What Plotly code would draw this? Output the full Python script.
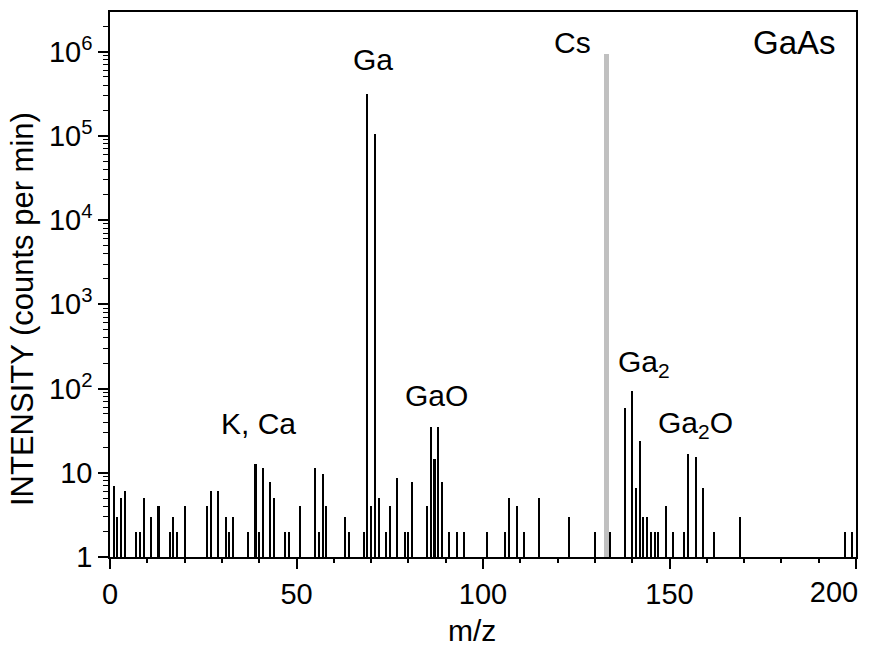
import plotly.graph_objects as go

# peak positions (m/z) and intensities (counts per min)
mz = [1, 2, 3, 4, 7, 8, 9, 11, 13, 16, 17, 18, 20, 26, 27, 29, 31, 32, 33,
      37, 39, 40, 41, 43, 44, 47, 48, 51, 55, 56, 57, 58, 63, 64, 68, 69, 70,
      71, 72, 74, 75, 77, 79, 80, 81, 85, 86, 87, 88, 89, 91, 93, 95, 101,
      106, 107, 109, 111, 115, 123, 130, 134, 138, 140, 141, 142, 143, 144,
      145, 146, 147, 149, 151, 154, 155, 157, 159, 162, 169, 197, 199]
counts = [7, 3, 5, 6, 2, 2, 5, 3, 4, 2, 3, 2, 4, 4, 6, 6, 3, 2, 3,
          2, 12.6, 2, 11.5, 7.7, 5, 2, 2, 4, 11.5, 2, 9.6, 4, 3, 2, 2, 3.1e5, 4,
          1.05e5, 5, 2, 4, 8.6, 2, 2, 7.7, 4, 34.6, 14.5, 34.6, 7.7, 2, 2, 2, 2,
          2, 5, 4, 2, 5, 3, 2, 2, 59, 94, 6.6, 24, 3, 3,
          2, 2, 2, 4, 2, 2, 16.5, 15.5, 6.6, 2, 3, 2, 2]

cs_mz = [133]
cs_counts = [9.3e5]

xtick_vals = [0, 50, 100, 150, 200]
xtick_text = ["0", "50", "100", "150", ""]
last_xtick = 200
ytick_vals = [1, 10, 100, 1e3, 1e4, 1e5, 1e6]
ytick_text = ["1", "10", "10<sup>2</sup>", "10<sup>3</sup>", "10<sup>4</sup>",
              "10<sup>5</sup>", "10<sup>6</sup>"]
yminor_vals = [m * 10 ** d for d in range(7) for m in range(2, 10)]

# (text, x, log10 y, font size)
labels = [
    ("Ga", 70.5, 5.91, 30),
    ("Cs", 124.1, 6.11, 30),
    ("GaAs", 183.6, 6.11, 33),
    ("K, Ca", 39.9, 1.59, 30),
    ("GaO", 87.4, 1.92, 30),
    ("Ga<sub>2</sub>", 143.2, 2.30, 30),
    ("Ga<sub>2</sub>O", 157.1, 1.57, 30),
]

FONT = "Arial, Liberation Sans, sans-serif"

fig = go.Figure()
fig.add_trace(go.Bar(x=mz, y=counts, width=0.55,
                     marker=dict(color="black", line=dict(width=0))))
# Cs peak sits on the overlaid x2 axis (same range) so that axis gets drawn
fig.add_trace(go.Bar(x=cs_mz, y=cs_counts, width=1.35, xaxis="x2",
                     marker=dict(color="#c0c0c0", line=dict(width=0))))

for text, x, y, size in labels:
    fig.add_annotation(x=x, y=y, text=text, showarrow=False,
                       xanchor="center", yanchor="middle",
                       font=dict(size=size, color="black", family=FONT))

fig.add_annotation(xref="paper", yref="paper", x=0, y=0.455, xshift=-88,
                   xanchor="center", yanchor="middle",
                   text="INTENSITY (counts per min)", textangle=-90,
                   showarrow=False, font=dict(size=31, color="black", family=FONT))
fig.add_annotation(xref="paper", yref="paper", x=0.485, y=0, yshift=-73,
                   xanchor="center", yanchor="middle",
                   text="m/z", showarrow=False,
                   font=dict(size=30, color="black", family=FONT))

# the page body adds an 8px offset, so the figure is sized to compensate
fig.update_layout(
    width=875, height=653,
    margin=dict(l=102, r=27, t=4, b=104),
    paper_bgcolor="white", plot_bgcolor="white",
    showlegend=False, barmode="overlay", bargap=0,
    font=dict(family=FONT, size=29, color="black"),
    xaxis=dict(
        range=[0, 200], tickvals=xtick_vals, ticktext=xtick_text,
        automargin=False,
        ticks="outside", ticklen=10, tickwidth=1.5, tickcolor="black",
        minor=dict(dtick=10, tick0=0, ticks="outside", ticklen=4,
                   tickwidth=1.5, tickcolor="black"),
        showline=True, linecolor="black", linewidth=1.5, mirror=True,
        showgrid=False, zeroline=False,
    ),
    # second x axis only carries the last label, right-aligned to its tick
    xaxis2=dict(
        overlaying="x", anchor="y", side="bottom", range=[0, 200],
        automargin=False, tickvals=[last_xtick], ticktext=[str(last_xtick)],
        ticklabelposition="outside left", ticklabelstandoff=9,
        ticklabelshift=3,
        ticks="outside", ticklen=10, tickwidth=1.5,
        tickcolor="rgba(0,0,0,0)",
        showline=False, showgrid=False, zeroline=False,
    ),
    yaxis=dict(
        type="log", range=[0, 6.47], automargin=False,
        tickvals=ytick_vals, ticktext=ytick_text,
        ticks="outside", ticklen=10, tickwidth=1.5, tickcolor="black",
        minor=dict(tickvals=yminor_vals, ticks="outside", ticklen=5,
                   tickwidth=1.2, tickcolor="black"),
        showline=True, linecolor="black", linewidth=1.5, mirror=True,
        showgrid=False, zeroline=False,
    ),
)

fig.write_html("out.html")
